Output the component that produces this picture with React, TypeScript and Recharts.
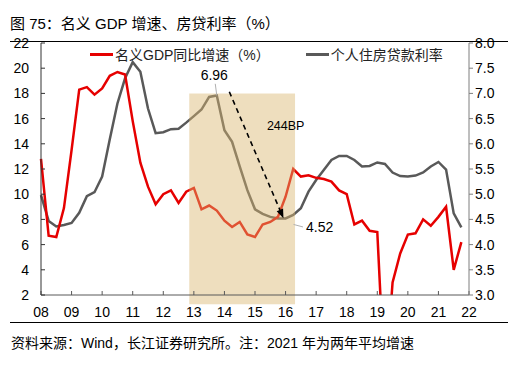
import React from 'react';
import {
  LineChart,
  Line,
  XAxis,
  YAxis,
  ReferenceArea,
  ReferenceLine,
  Legend
} from 'recharts';

// 横轴：年份刻度（08 = 2008），数据按季度排列
const yearTicks = [8, 9, 10, 11, 12, 13, 14, 15, 16, 17, 18, 19, 20, 21, 22];
const leftTicks = [2, 4, 6, 8, 10, 12, 14, 16, 18, 20, 22];
const rightTicks = [3.0, 3.5, 4.0, 4.5, 5.0, 5.5, 6.0, 6.5, 7.0, 7.5, 8.0];

// 名义GDP同比增速（%）
const gdpGrowth = [
  12.8, 6.7, 6.6, 8.9, 13.5, 18.3, 18.5, 17.9, 18.4, 19.4, 19.7, 19.5,
  15.8, 12.5, 10.6, 9.2, 10.0, 10.3, 9.3, 10.2, 10.5, 8.8, 9.1, 8.7,
  7.9, 7.4, 7.8, 6.8, 6.6, 7.6, 7.8, 8.2, 9.8, 12.0, 11.4, 11.5,
  11.3, 11.2, 11.0, 10.3, 10.0, 7.6, 7.9, 7.1, 7.0, -5.3, 3.0, 5.3,
  6.8, 6.9, 8.0, 7.5, 8.2, 9.0, 4.0, 6.2
];

// 个人住房贷款利率（%）
const mortgageRate = [
  4.98, 4.47, 4.36, 4.39, 4.43, 4.63, 4.96, 5.04, 5.35, 6.09, 6.8, 7.3,
  7.62, 7.43, 6.7, 6.21, 6.23, 6.29, 6.3, 6.42, 6.55, 6.68, 6.93, 6.96,
  6.27, 6.04, 5.55, 5.08, 4.7, 4.61, 4.55, 4.52, 4.52, 4.59, 4.72, 5.05,
  5.28, 5.48, 5.68, 5.76, 5.76, 5.68, 5.55, 5.56, 5.63, 5.6, 5.43, 5.36,
  5.35, 5.37, 5.43, 5.55, 5.64, 5.49, 4.62, 4.34
];

const data = gdpGrowth.map((gdp, i) => ({ t: 8 + i / 4, gdp, rate: mortgageRate[i] }));

const RED = '#e60000';
const GREY = '#595959';
const FONT = '"Liberation Sans", Arial, "Noto Sans CJK SC", sans-serif';

const Arrow = (props: any) => {
  const { x1, y1, x2, y2 } = props;
  const ang = Math.atan2(y2 - y1, x2 - x1);
  const len = 9;
  const half = 3.5;
  const bx = x2 - len * Math.cos(ang);
  const by = y2 - len * Math.sin(ang);
  const px = -Math.sin(ang) * half;
  const py = Math.cos(ang) * half;
  return (
    <g>
      <line x1={x1} y1={y1} x2={bx} y2={by} stroke="#000" strokeWidth={1.6} strokeDasharray="5 4" />
      <polygon points={`${x2},${y2} ${bx + px},${by + py} ${bx - px},${by - py}`} fill="#000" />
    </g>
  );
};

const leader = (text: string, anchor: 'middle' | 'start', dx: number, dy: number) => (props: any) => {
  const { x1, y1, x2, y2 } = props;
  return (
    <g>
      <line x1={x1} y1={y1} x2={x2} y2={y2} stroke="#b0b0b0" strokeWidth={1} />
      <text x={x2 + dx} y={y2 + dy} textAnchor={anchor} fontSize={14} fill="#000" fontFamily={FONT}>
        {text}
      </text>
    </g>
  );
};

const BpLabel = (props: any) => {
  const { x1, y1 } = props;
  return (
    <text x={x1} y={y1} fontSize={12.5} fill="#000" fontFamily={FONT}>244BP</text>
  );
};

const LegendBox = () => (
  <div style={{ display: 'flex', alignItems: 'center', fontSize: 14, color: '#222', fontFamily: FONT, whiteSpace: 'nowrap' }}>
    <span style={{ display: 'inline-block', width: 23, height: 3, background: RED, marginRight: 2 }} />
    <span>名义GDP同比增速（%）</span>
    <span style={{ display: 'inline-block', width: 23, height: 3, background: GREY, marginLeft: 36, marginRight: 2 }} />
    <span>个人住房贷款利率</span>
  </div>
);

export default function App() {
  return (
    <div style={{ position: 'absolute', left: 0, top: 0, width: 520, height: 376, background: '#fff', fontFamily: FONT }}>
      <div style={{ position: 'absolute', left: 10, top: 14, fontSize: 15, color: '#000', whiteSpace: 'nowrap', lineHeight: '20px' }}>
        图 75：名义 GDP 增速、房贷利率（%）
      </div>
      <div style={{ position: 'absolute', left: 10, top: 41, width: 498, height: 1, background: '#000' }} />

      <LineChart
        width={520}
        height={376}
        data={data}
        margin={{ top: 43, right: 11, bottom: 51, left: 0 }}
        style={{ position: 'absolute', left: 0, top: 0, fontFamily: FONT }}
      >
        <XAxis
          dataKey="t"
          type="number"
          xAxisId="x"
          domain={[8, 22]}
          ticks={yearTicks}
          interval={0}
          height={30}
          tickFormatter={(v: number) => String(v).padStart(2, '0')}
          stroke="#595959"
          tickSize={-4}
          tickMargin={16}
          tick={{ fill: '#000', fontSize: 14 }}
        />
        <YAxis
          yAxisId="left"
          orientation="left"
          width={41}
          domain={[2, 22]}
          ticks={leftTicks}
          interval={0}
          allowDataOverflow
          stroke="#333"
          tickSize={-4}
          tickMargin={16}
          tick={{ fill: '#000', fontSize: 14 }}
        />
        <YAxis
          yAxisId="right"
          orientation="right"
          width={40}
          domain={[3, 8]}
          ticks={rightTicks}
          interval={0}
          allowDataOverflow
          stroke="#7f7f7f"
          tickSize={4}
          tickMargin={2}
          tickFormatter={(v: number) => v.toFixed(1)}
          tick={{ fill: '#000', fontSize: 14 }}
        />
        <Legend
          layout="horizontal"
          verticalAlign="middle"
          align="center"
          wrapperStyle={{ left: 90, top: 44, width: 'auto' }}
          content={() => <LegendBox />}
        />
        <Line
          xAxisId="x"
          yAxisId="right"
          dataKey="rate"
          stroke={GREY}
          strokeWidth={2.5}
          dot={false}
          isAnimationActive={false}
        />
        <Line
          xAxisId="x"
          yAxisId="left"
          dataKey="gdp"
          stroke={RED}
          strokeWidth={2.5}
          dot={false}
          isAnimationActive={false}
        />
        <ReferenceArea
          xAxisId="x"
          yAxisId="left"
          x1={12.85}
          x2={16.31}
          y1={1.26}
          y2={18}
          fill="#d9b66e"
          fillOpacity={0.45}
          stroke="none"
          ifOverflow="visible"
          zIndex={450}
        />
        <ReferenceLine
          xAxisId="x"
          yAxisId="left"
          segment={[{ x: 14.16, y: 18.13 }, { x: 15.93, y: 8.1 }]}
          shape={Arrow}
          zIndex={700}
        />
        <ReferenceLine
          xAxisId="x"
          yAxisId="right"
          segment={[{ x: 13.75, y: 6.96 }, { x: 13.7, y: 7.19 }]}
          shape={leader('6.96', 'middle', -1, -4)}
          zIndex={700}
        />
        <ReferenceLine
          xAxisId="x"
          yAxisId="right"
          segment={[{ x: 16.26, y: 4.4 }, { x: 16.57, y: 4.35 }]}
          shape={leader('4.52', 'start', 3, 5)}
          zIndex={700}
        />
        <ReferenceLine
          xAxisId="x"
          yAxisId="left"
          segment={[{ x: 15.39, y: 15.1 }, { x: 15.39, y: 15.1 }]}
          shape={BpLabel}
          zIndex={700}
        />
      </LineChart>

      <div style={{ position: 'absolute', left: 10, top: 322, width: 498, height: 1, background: '#000' }} />
      <div style={{ position: 'absolute', left: 11, top: 333, fontSize: 14, color: '#000', whiteSpace: 'nowrap', lineHeight: '20px' }}>
        资料来源：Wind，长江证券研究所。注：2021 年为两年平均增速
      </div>
    </div>
  );
}
